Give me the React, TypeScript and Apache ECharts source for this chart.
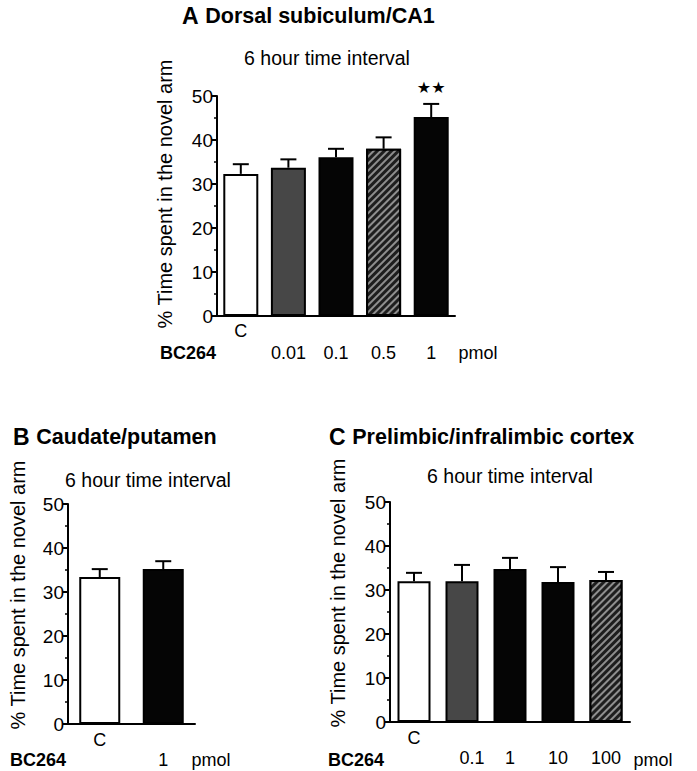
import React, { useEffect, useRef } from "react";
import * as echarts from "echarts";

// ---- data ----
const catsA = ["C", "0.01", "0.1", "0.5", "1"];
const meanA = [32.3, 33.7, 36.1, 38.0, 45.2];
const semA = [2.2, 1.9, 1.9, 2.6, 3.0];
const fillA = ["white", "grey", "black", "hatch", "black"];
const sigA = ["", "", "", "", "★★"];

const catsB = ["C", "1"];
const meanB = [33.4, 35.2];
const semB = [1.8, 1.8];
const fillB = ["white", "black"];
const sigB = ["", ""];

const catsC = ["C", "0.1", "1", "10", "100"];
const meanC = [32.0, 32.0, 34.8, 31.8, 32.3];
const semC = [1.9, 3.7, 2.5, 3.4, 1.8];
const fillC = ["white", "grey", "black", "black", "hatch"];
const sigC = ["", "", "", "", ""];

const yTicks = { min: 0, max: 50, interval: 10 };
const yName = "% Time spent in the novel arm";
const subTitle = "6 hour time interval";

const FONT = "'Liberation Sans', Arial, Helvetica, sans-serif";

function fillStyle(kind: string) {
  const base: any = { borderColor: "#000", borderWidth: 2 };
  if (kind === "white") return { ...base, color: "#ffffff" };
  if (kind === "grey") return { ...base, color: "#474747" };
  if (kind === "black") return { ...base, color: "#050505" };
  return {
    ...base,
    color: "#1e1e1e",
    decal: {
      symbol: "rect",
      symbolSize: 1,
      color: "#8e8e8e",
      dashArrayX: [1, 0],
      dashArrayY: [2, 3],
      rotation: -Math.PI / 4,
    },
  };
}

function App() {
  const ref = useRef<HTMLDivElement>(null);
  useEffect(() => {
    const chart = echarts.init(ref.current!, undefined, { renderer: "svg" });

    const grids = [
      { left: 217, top: 96, width: 238, height: 220 },
      { left: 68, top: 504, width: 127, height: 220 },
      { left: 390, top: 502, width: 240, height: 220 },
    ];
    const panels = [
      { cats: catsA, mean: meanA, sem: semA, fill: fillA, sig: sigA, bw: 35, lh: 22, margin: 4, shift: [0, 0, 0, 0, 0] },
      { cats: catsB, mean: meanB, sem: semB, fill: fillB, sig: sigB, bw: 41, lh: 20, margin: 6, shift: [0, 0] },
      { cats: catsC, mean: meanC, sem: semC, fill: fillC, sig: sigC, bw: 33, lh: 20, margin: 6, shift: [0, 20, 0, 0, 0] },
    ];

    const xAxis = panels.map((p, i) => ({
      type: "category",
      gridIndex: i,
      data: p.cats,
      axisLine: { lineStyle: { color: "#000", width: 2 } },
      axisTick: { show: false },
      axisLabel: {
        interval: 0,
        margin: p.margin,
        color: "#000",
        fontFamily: FONT,
        fontSize: 18,
        lineHeight: p.lh,
        rich: {
          s: { fontFamily: FONT, fontSize: 18, color: "#000", lineHeight: p.lh, padding: [0, 0, 0, 20] },
        },
        formatter: (v: string, idx: number) =>
          idx === 0 ? v + "\n " : p.shift[idx] ? " \n{s|" + v + "}" : " \n" + v,
      },
    }));

    const yAxis = panels.map((p, i) => ({
      type: "value",
      gridIndex: i,
      min: yTicks.min,
      max: yTicks.max,
      interval: yTicks.interval,
      axisLine: { show: true, lineStyle: { color: "#000", width: 2 } },
      axisTick: { show: true, length: 5, lineStyle: { color: "#000", width: 2 } },
      minorTick: { show: true, splitNumber: 2, length: 3, lineStyle: { color: "#000", width: 1.5 } },
      splitLine: { show: false },
      axisLabel: { color: "#000", fontFamily: FONT, fontSize: 19, margin: 4 },
    }));

    const series: any[] = [];
    panels.forEach((p, i) => {
      series.push({
        type: "bar",
        xAxisIndex: i,
        yAxisIndex: i,
        barWidth: p.bw,
        data: p.mean.map((v, j) => ({ value: v, itemStyle: fillStyle(p.fill[j]) })),
        z: 2,
      });
      series.push({
        type: "custom",
        xAxisIndex: i,
        yAxisIndex: i,
        z: 3,
        data: p.mean.map((v, j) => [j, v, p.sem[j]]),
        renderItem: (params: any, api: any) => {
          const j = api.value(0);
          const m = api.value(1);
          const e = api.value(2);
          const a = api.coord([j, m]);
          const b = api.coord([j, m + e]);
          const children: any[] = [
            { type: "line", shape: { x1: a[0], y1: a[1], x2: b[0], y2: b[1] }, style: { stroke: "#000", lineWidth: 2 } },
            { type: "line", shape: { x1: b[0] - 8, y1: b[1], x2: b[0] + 8, y2: b[1] }, style: { stroke: "#000", lineWidth: 2 } },
          ];
          const s = p.sig[params.dataIndex];
          if (s) {
            children.push({
              type: "text",
              style: {
                text: s,
                x: b[0],
                y: b[1] - 16,
                fill: "#000",
                font: "16px 'DejaVu Sans', sans-serif",
                align: "center",
                verticalAlign: "middle",
              },
            });
          }
          return { type: "group", children };
        },
      });
    });

    const txt = (text: string, x: number, y: number, size: number, bold = false, align = "center", rotation = 0) => ({
      type: "text",
      x,
      y,
      rotation,
      style: {
        text,
        fill: "#000",
        font: `${bold ? "bold " : ""}${size}px ${FONT}`,
        textAlign: align,
        textVerticalAlign: "middle",
      },
    });

    const titleRich = (letter: string, rest: string, x: number, y: number) => ({
      type: "text",
      x,
      y,
      style: {
        text: `{l|${letter}}  {r|${rest}}`,
        textAlign: "left",
        textVerticalAlign: "middle",
        fill: "#000",
        rich: {
          l: { fontFamily: FONT, fontWeight: "bold", fontSize: 23 },
          r: { fontFamily: FONT, fontWeight: "bold", fontSize: 21.5 },
        },
      },
    });

    const graphic = [
      titleRich("A", "Dorsal subiculum/CA1", 182, 16),
      titleRich("B", "Caudate/putamen", 13, 437),
      titleRich("C", "Prelimbic/infralimbic cortex", 329, 437),
      txt(subTitle, 327, 58, 19.5),
      txt(subTitle, 148, 480, 19.5),
      txt(subTitle, 510, 476, 19.5),
      txt(yName, 165, 194, 20, false, "center", Math.PI / 2),
      txt(yName, 18, 595, 20, false, "center", Math.PI / 2),
      txt(yName, 338, 593, 20, false, "center", Math.PI / 2),
      txt("BC264", 160, 353, 18, true, "left"),
      txt("BC264", 10, 760, 18, true, "left"),
      txt("BC264", 328, 760, 18, true, "left"),
      txt("pmol", 478, 353, 18, false, "center"),
      txt("pmol", 211, 760, 18, false, "center"),
      txt("pmol", 653, 760, 18, false, "center"),
    ];

    chart.setOption({
      animation: false,
      backgroundColor: "#ffffff",
      grid: grids,
      xAxis,
      yAxis,
      series,
      graphic,
    });
    return () => chart.dispose();
  }, []);
  return <div ref={ref} style={{ position: "absolute", left: 0, top: 0, width: 697, height: 771 }} />;
}

export default App;
